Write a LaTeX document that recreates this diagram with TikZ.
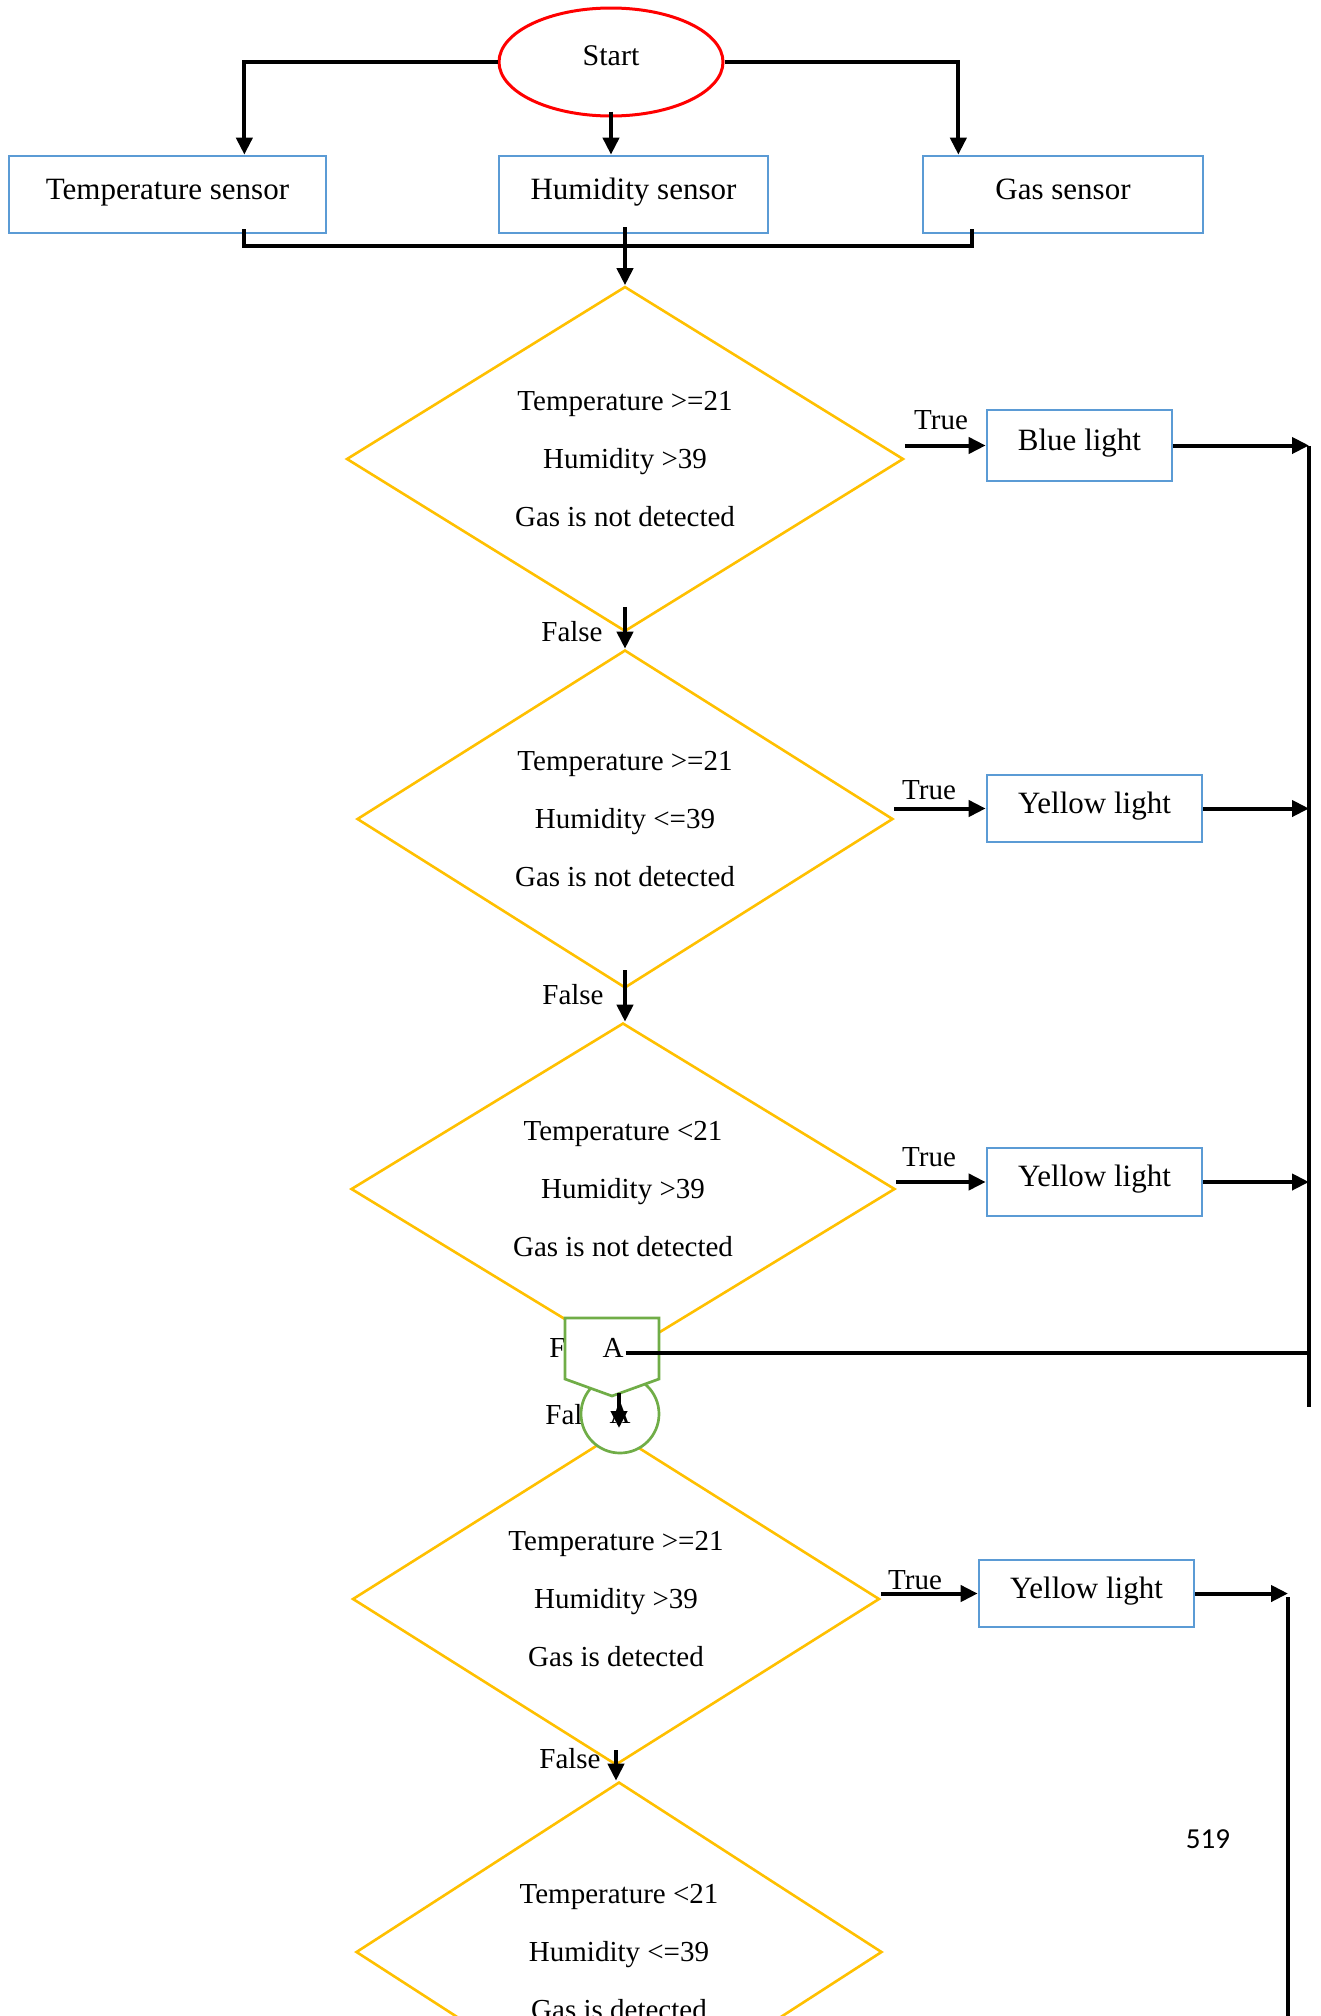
\documentclass[tikz,border=0pt]{standalone}
\usepackage{fontspec}
\setmainfont{Liberation Serif}
\newfontfamily\pagefont{Carlito}
\usetikzlibrary{shapes.geometric, arrows.meta, calc}
\definecolor{boxblue}{HTML}{5B9BD5}
\definecolor{decyellow}{HTML}{FFC000}
\definecolor{startred}{HTML}{FF0000}
\definecolor{congreen}{HTML}{70AD47}
\tikzset{
  startnode/.style={ellipse, draw=startred, line width=3pt, inner sep=0pt, text height=20pt, text depth=14pt, font=\fontsize{30}{36}\selectfont},
  box/.style={rectangle, draw=boxblue, line width=2.7pt, inner sep=0pt, text height=21pt, text depth=12pt, font=\fontsize{31}{37}\selectfont},
  dec/.style={diamond, shape aspect=1.6, draw=decyellow, line width=2.6pt, inner sep=0pt, align=center, font=\fontsize{29}{58}\selectfont},
  lbl/.style={inner sep=0pt, font=\fontsize{29}{35}\selectfont},
  line/.style={draw=black, line width=4pt},
  arrow/.style={line, -{Triangle[length=17pt,width=16pt]}},
  conn/.style={draw=congreen, line width=2.7pt, fill=white},
}
\begin{document}
\begin{tikzpicture}[x=1pt,y=-1pt]
\clip (0,0) rectangle (1320,2016);
\fill[white] (0,0) rectangle (1320,2016);

% start and sensors
\node[startnode, minimum width=224pt, minimum height=108pt] (start) at (611,62) {Start};
\node[box, minimum width=317pt, minimum height=77pt] (temp) at (167.5,194.5) {Temperature sensor};
\node[box, minimum width=269pt, minimum height=77pt] (hum) at (633.5,194.5) {Humidity sensor};
\node[box, minimum width=280pt, minimum height=77pt] (gas) at (1063,194.5) {Gas sensor};

\draw[arrow] (start.west) -| ([xshift=-83pt]temp.north east);
\draw[arrow] (start.east) -| ([xshift=-246pt]gas.north east);
\draw[arrow] ([yshift=6pt]start.south) -- (start.south |- hum.north);

% decisions
\node[dec, minimum width=557pt, minimum height=345pt] (d1) at (625,459) {Temperature >=21\\Humidity >39\\Gas is not detected};
\node[dec, minimum width=536pt, minimum height=338pt] (d2) at (625,819) {Temperature >=21\\Humidity <=39\\Gas is not detected};
\node[dec, minimum width=544pt, minimum height=332pt] (d3) at (623,1189) {Temperature <21\\Humidity >39\\Gas is not detected};
\node[dec, minimum width=527pt, minimum height=332pt] (d4) at (616,1599) {Temperature >=21\\Humidity >39\\Gas is detected};
\node[dec, minimum width=526pt, minimum height=340pt] (d5) at (619,1952) {Temperature <21\\Humidity <=39\\Gas is detected};

% sensor bus
\draw[line] ([xshift=-83pt,yshift=5pt]temp.south east) -- ++(0,17) -| ([xshift=-232pt,yshift=5pt]gas.south east);
\draw[arrow] ([xshift=-8.5pt,yshift=7pt]hum.south) -- (hum.south -| d1.north) -- (d1.north);

% outputs
\node[box, minimum width=185pt, minimum height=71pt] (blue) at (1079.5,445.5) {Blue light};
\node[box, minimum width=215pt, minimum height=67pt] (yl1) at (1094.5,808.5) {Yellow light};
\node[box, minimum width=215pt, minimum height=68pt] (yl2) at (1094.5,1182) {Yellow light};
\node[box, minimum width=215pt, minimum height=67pt] (yl3) at (1086.5,1593.5) {Yellow light};

% false arrows and labels
\draw[arrow] ([yshift=26pt]d1.south) -- (d2.north);
\draw[arrow] ([yshift=19pt]d2.south) -- (d2.south |- d3.north);
\draw[arrow] ([yshift=16pt]d4.south) -- (d4.south |- d5.north);
\node[lbl] (f1) at (572,632) {False};
\node[lbl] (f2) at (573,995) {False};
\node[lbl] (f3) at (580,1348) {False};
\node[lbl] (f4) at (576,1415) {False};
\node[lbl] (f5) at (570,1759) {False};

% true arrows and labels
\draw[arrow] (d1.east |- blue.west) -- (blue.west);
\draw[arrow] (d2.east |- yl1.west) -- (yl1.west);
\draw[arrow] (d3.east |- yl2.west) -- (yl2.west);
\draw[arrow] (d4.east |- yl3.west) -- (yl3.west);
\node[lbl] (t1) at (941,420) {True};
\node[lbl] (t2) at (929,790) {True};
\node[lbl] (t3) at (929,1157) {True};
\node[lbl] (t4) at (915,1580) {True};

% right collector lines
\coordinate (rbus) at (1309,446);
\coordinate (rend) at (1309,1407);
\coordinate (rbus2) at (1288,1597);
\coordinate (rend2) at (1288,2030);
\draw[line] (rbus) -- (rend);
\draw[line] (rbus2) -- (rend2);
\draw[arrow] (blue.east) -- (blue.east -| rbus);
\draw[arrow] (yl1.east) -- (yl1.east -| rbus);
\draw[arrow] (yl2.east) -- (yl2.east -| rbus);
\draw[arrow] (yl3.east) -- (yl3.east -| rbus2);

% connectors A
\node[circle, draw=congreen, line width=2.7pt, fill=white, minimum size=78pt, inner sep=0pt, font=\fontsize{29}{35}\selectfont] (onA) at (620,1414) {A};
\draw[conn] (565,1318) -- (659,1318) -- (659,1379) -- (612,1396) -- (565,1379) -- cycle;
\node[lbl, inner sep=2pt] (offA) at (613,1348) {A};
\draw[line] ([yshift=-5pt]offA.east) -- ([yshift=-5pt]offA.east -| rbus);
\draw[arrow] ([xshift=-1pt,yshift=21pt]onA.center) -- ([xshift=-1pt,yshift=-14pt]onA.center);

% page number
\node[inner sep=0pt, font=\pagefont\fontsize{29}{35}\selectfont] (pg) at (1208,1839) {519};
\end{tikzpicture}
\end{document}
